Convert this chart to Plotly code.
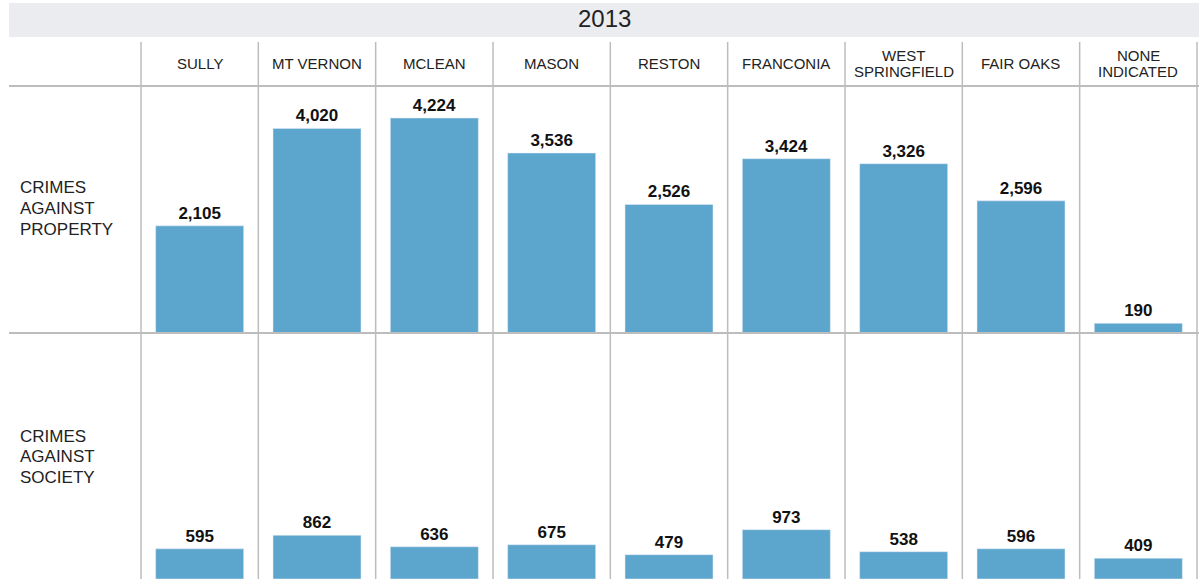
import plotly.graph_objects as go

# data
districts = ["SULLY", "MT VERNON", "MCLEAN", "MASON", "RESTON", "FRANCONIA",
             "WEST SPRINGFIELD", "FAIR OAKS", "NONE INDICATED"]
header_labels = [["SULLY"], ["MT VERNON"], ["MCLEAN"], ["MASON"], ["RESTON"],
                 ["FRANCONIA"], ["WEST", "SPRINGFIELD"], ["FAIR OAKS"],
                 ["NONE", "INDICATED"]]
property_crimes = [2105, 4020, 4224, 3536, 2526, 3424, 3326, 2596, 190]
society_crimes = [595, 862, 636, 675, 479, 973, 538, 596, 409]
row_labels = [["CRIMES", "AGAINST", "PROPERTY"], ["CRIMES", "AGAINST", "SOCIETY"]]
year = "2013"

W, H = 1203, 579
BAR = "#5ca5cd"
GRID = "#bdbdbd"
FONT = "Liberation Sans, Arial, sans-serif"


def px_x(v):
    return v / W


def px_y(v):
    return 1 - v / H


x0, x1 = 141, 1197
col_w = (x1 - x0) / len(districts)
ymax = 4853

fig = go.Figure()
for vals, xa, ya in [(property_crimes, "x", "y"), (society_crimes, "x2", "y2")]:
    fig.add_trace(go.Bar(
        x=districts, y=vals, xaxis=xa, yaxis=ya,
        marker_color=BAR, width=0.75,
        text=[f"<b>{v:,}</b>" for v in vals], textposition="outside",
        textfont=dict(family=FONT, size=17, color="#111"),
        cliponaxis=False, showlegend=False, hoverinfo="x+y",
    ))

axis_x = dict(showticklabels=False, showgrid=False, zeroline=False,
              showline=False, range=[-0.5, len(districts) - 0.5])
axis_y = dict(showticklabels=False, showgrid=False, zeroline=False,
              showline=False, range=[0, ymax])

fig.update_layout(
    width=W, height=H,
    margin=dict(l=0, r=0, t=0, b=0),
    paper_bgcolor="white", plot_bgcolor="rgba(0,0,0,0)",
    xaxis=dict(axis_x, domain=[px_x(x0), px_x(x1)], anchor="y"),
    yaxis=dict(axis_y, domain=[px_y(333), px_y(86)], anchor="x"),
    xaxis2=dict(axis_x, domain=[px_x(x0), px_x(x1)], anchor="y2"),
    yaxis2=dict(axis_y, domain=[0, px_y(333)], anchor="x2"),
    font=dict(family=FONT),
)

shapes = []
# title band
shapes.append(dict(type="rect", xref="paper", yref="paper",
                   x0=px_x(9), x1=px_x(1199), y0=px_y(37), y1=px_y(3),
                   fillcolor="#ebecf0", line_width=0, layer="below"))
# horizontal rules
for yy in [86, 333]:
    shapes.append(dict(type="line", xref="paper", yref="paper",
                       x0=px_x(9), x1=px_x(1199), y0=px_y(yy), y1=px_y(yy),
                       line=dict(color=GRID, width=2)))
# vertical rules
for i in range(len(districts) + 1):
    xx = x0 + i * col_w
    shapes.append(dict(type="line", xref="paper", yref="paper",
                       x0=px_x(xx), x1=px_x(xx), y0=0, y1=px_y(42),
                       line=dict(color=GRID, width=1.5)))
fig.update_layout(shapes=shapes)


def label(text, x, y, size, anchor="center"):
    return dict(text=text, x=px_x(x), y=px_y(y), xref="paper", yref="paper",
                xanchor=anchor, yanchor="middle", showarrow=False,
                font=dict(size=size, color="#222"))


ann = [label(year, 604, 19, 24)]
for i, lines in enumerate(header_labels):
    cx = x0 + (i + 0.5) * col_w
    start = 63.5 - (len(lines) - 1) * 16.5 / 2
    for j, ln in enumerate(lines):
        ann.append(label(ln, cx, start + j * 16.5, 15))
for lines, yy in zip(row_labels, [188, 436]):
    for j, ln in enumerate(lines):
        ann.append(label(ln, 18, yy + j * 20.8, 17, "left"))
fig.update_layout(annotations=ann)

fig.write_html("out.html", config={"displayModeBar": False},
               post_script="document.body.style.margin='0';")
